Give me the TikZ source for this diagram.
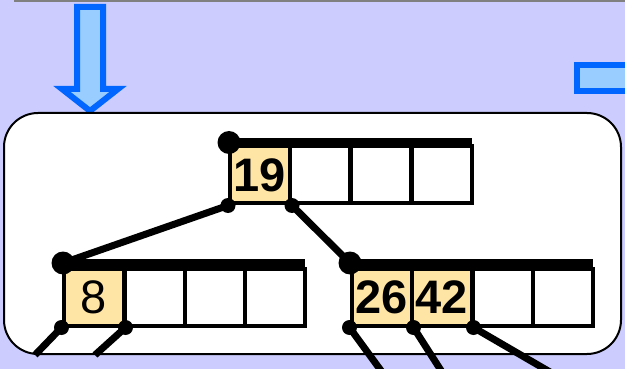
\documentclass[tikz,border=0pt]{standalone}
\usepackage{fontspec}
\setmainfont{Liberation Sans}
\definecolor{lav}{HTML}{CCCCFF}
\definecolor{arrfill}{HTML}{99CCFF}
\definecolor{arrline}{HTML}{0066FF}
\definecolor{keyfill}{HTML}{FFE5A5}
\definecolor{topgray}{HTML}{808080}
\tikzset{
  cell/.style={draw=black, line width=4pt, minimum width=60pt, minimum height=57pt, inner sep=0pt, fill=white, font=\fontsize{47}{47}\selectfont},
  keycell/.style={cell, fill=keyfill},
  bar/.style={line width=9pt},
  edge/.style={line width=7pt},
  bigdot/.style={circle, fill=black, minimum size=23pt, inner sep=0pt},
  smalldot/.style={circle, fill=black, minimum size=15pt, inner sep=0pt},
  bigarrow/.style={fill=arrfill, draw=arrline, line width=6pt, line join=miter}
}
\begin{document}
\begin{tikzpicture}[x=1pt,y=-1pt]
\useasboundingbox (0,0) rectangle (625,369);
\fill[lav] (0,0) rectangle (625,369);
\draw[topgray, line width=2.5pt] (14,1) -- (625,1);
% big arrows
\draw[bigarrow] (77,7) -- (103,7) -- (103,89) -- (118,89) -- (90,111) -- (62,89) -- (77,89) -- cycle;
\draw[bigarrow] (577,65) rectangle (640,91);
% rounded frame
\draw[line width=2pt, fill=white, rounded corners=34pt] (4,113) rectangle (621,354);
% root node
\node[keycell] (r1) at (260,175) {\bfseries 19};
\node[cell] (r2) at (320,175) {};
\node[cell] (r3) at (381,175) {};
\node[cell] (r4) at (442,175) {};
% left child
\node[keycell] (a1) at (93.5,297) {8};
\node[cell] (a2) at (154.5,297) {};
\node[cell] (a3) at (215,297) {};
\node[cell] (a4) at (275,297) {};
% right child
\node[keycell] (b1) at (381.5,297) {\bfseries 26};
\node[keycell] (b2) at (441.5,297) {\bfseries 42};
\node[cell] (b3) at (502.5,297) {};
\node[cell] (b4) at (562.5,297) {};
% bars
\coordinate (rend) at (472,142.5);
\coordinate (aend) at (305,263);
\coordinate (bend) at (593,263);
\node[bigdot] (rd) at (229,142.5) {};
\node[bigdot] (ad) at (63,263) {};
\node[bigdot] (bd) at (350,263) {};
\draw[bar] (rd.center) -- (rend);
\draw[bar] (ad.center) -- (aend);
\draw[bar] (bd.center) -- (bend);
% pointer dots
\node[smalldot] (rp0) at (r1.south west) {};
\node[smalldot] (rp1) at (r1.south east) {};
\node[smalldot] (ap0) at (a1.south west) {};
\node[smalldot] (ap1) at (a1.south east) {};
\node[smalldot] (bp0) at (b1.south west) {};
\node[smalldot] (bp1) at (b1.south east) {};
\node[smalldot] (bp2) at (b2.south east) {};
% free ends
\coordinate (ae0) at (35,355);
\coordinate (ae1) at (95,355);
\coordinate (be0) at (382,372);
\coordinate (be1) at (442,372);
\coordinate (be2) at (550,372);
% edges
\draw[edge] (rp0.center) -- (ad.center);
\draw[edge] (rp1.center) -- (bd.center);
\draw[edge] (ap0.center) -- (ae0);
\draw[edge] (ap1.center) -- (ae1);
\draw[edge] (bp0.center) -- (be0);
\draw[edge] (bp1.center) -- (be1);
\draw[edge] (bp2.center) -- (be2);
\end{tikzpicture}
\end{document}
